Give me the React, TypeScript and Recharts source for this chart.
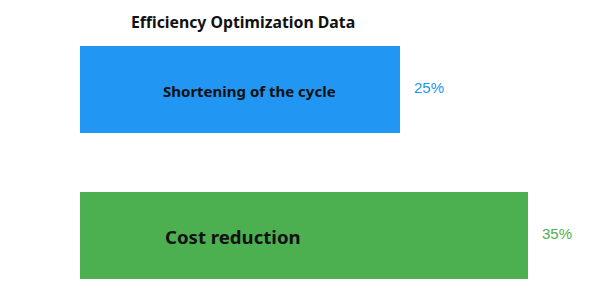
import React from "react";
import { BarChart, Bar, XAxis, YAxis, Cell, LabelList } from "recharts";

const categories = ["Shortening of the cycle", "Cost reduction"];
const values = [25, 35];
const colors = ["#2196F3", "#4CAF50"];
const labelSizes = [15, 18.6];
const labelOffsets = [83, 85];
const title = "Efficiency Optimization Data";

const data = categories.map((name, i) => ({ name, value: values[i] }));

const FONT = "'Noto Sans', 'Open Sans', sans-serif";

const InnerLabel = (props: any) => {
  const { x, y, height, index } = props;
  return (
    <text
      x={x + labelOffsets[index]}
      y={y + height / 2 + 3}
      textAnchor="start"
      dominantBaseline="middle"
      fontFamily={FONT}
      fontWeight={700}
      fontSize={labelSizes[index]}
      fill="#111"
    >
      {categories[index]}
    </text>
  );
};

const ValueLabel = (props: any) => {
  const { x, y, width, height, index, value } = props;
  return (
    <text
      x={x + width + 14}
      y={y + height / 2}
      textAnchor="start"
      dominantBaseline="middle"
      fontFamily="'Liberation Sans', Arial, sans-serif"
      fontSize={15}
      fill={colors[index]}
    >
      {value}%
    </text>
  );
};

export default function App() {
  return (
    <div style={{ position: "absolute", left: 0, top: 0, width: 600, height: 298, overflow: "hidden", background: "#fff" }}>
      <div style={{ position: "absolute", left: 0, top: 11, width: 486, textAlign: "center", fontFamily: FONT, fontWeight: 700, fontSize: 15.8, color: "#111" }}>
        {title}
      </div>
      <BarChart
        width={600}
        height={308}
        data={data}
        layout="vertical"
        margin={{ top: 16, right: 8, bottom: 0, left: 80 }}
      >
        <XAxis type="number" domain={[0, 40]} hide />
        <YAxis type="category" dataKey="name" hide />
        <Bar dataKey="value" barSize={87} isAnimationActive={false}>
          {data.map((d, i) => (
            <Cell key={d.name} fill={colors[i]} />
          ))}
          <LabelList dataKey="value" content={InnerLabel} />
          <LabelList dataKey="value" content={ValueLabel} />
        </Bar>
      </BarChart>
    </div>
  );
}
